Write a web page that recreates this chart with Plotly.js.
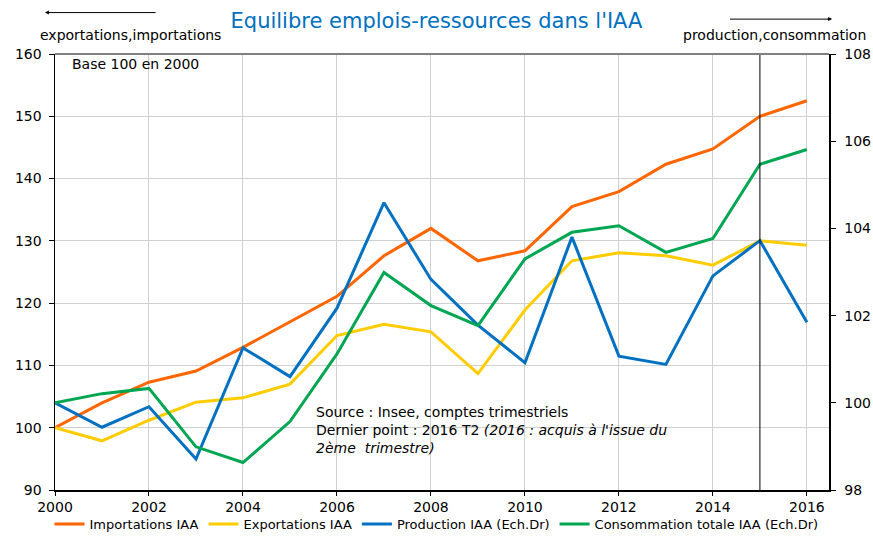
<!DOCTYPE html>
<html><head><meta charset="utf-8">
<script src="https://cdn.plot.ly/plotly-3.0.1.min.js"></script>
<style>body{margin:0;background:#fff}#chart{width:873px;height:539px}</style>
</head><body><div id="chart"></div>
<script>
const years = [2000,2001,2002,2003,2004,2005,2006,2007,2008,2009,2010,2011,2012,2013,2014,2015,2016];
const importations = [100,104.0,107.3,109.1,112.9,117.0,121.1,127.6,132.0,126.8,128.4,135.5,137.9,142.3,144.75,150.0,152.5];
const exportations = [100,97.9,101.2,104.1,104.8,107.0,114.8,116.6,115.4,108.7,118.9,126.8,128.1,127.6,126.1,130.0,129.3];
const production = [100,99.44,99.91,98.71,101.26,100.60,102.17,104.59,102.83,101.78,100.92,103.8,101.07,100.88,102.91,103.72,101.85];
const consommation = [100,100.21,100.33,98.99,98.63,99.57,101.12,102.99,102.23,101.77,103.3,103.91,104.06,103.45,103.77,105.47,105.81];
const seriesNames = ["Importations IAA","Exportations IAA","Production IAA (Ech.Dr)","Consommation totale IAA (Ech.Dr)"];
const xTicks = [2000,2002,2004,2006,2008,2010,2012,2014,2016];
const markerYear = 2015;

const fam = "DejaVu Sans, Verdana, sans-serif";
const font = {family:fam, size:14, color:"#000"};
const mk = (y, name, color, axis) => ({x:years, y:y, name:name, type:"scatter", mode:"lines",
  line:{color:color, width:3}, yaxis:axis});
const data = [
  mk(importations, seriesNames[0], "#FF6600", "y"),
  mk(exportations, seriesNames[1], "#FFCC00", "y"),
  mk(production, seriesNames[2], "#0070C0", "y2"),
  mk(consommation, seriesNames[3], "#00A651", "y2")
];
const layout = {
  width:873, height:539,
  margin:{l:55, r:44, t:54, b:49},
  paper_bgcolor:"#fff", plot_bgcolor:"#fff",
  font:font,
  showlegend:true,
  legend:{orientation:"h", x:0.5, xanchor:"center", xref:"container", yref:"container", y:0.0, yanchor:"bottom",
    font:{family:fam, size:13}, itemwidth:30, tracegroupgap:0, bgcolor:"rgba(0,0,0,0)"},
  title:{text:"Equilibre emplois-ressources dans l'IAA", font:{family:fam, size:21, color:"#0070C0"},
    x:0.5, xanchor:"center", y:0.962, yanchor:"middle"},
  xaxis:{range:[2000, 2016.47], tickvals:xTicks,
    showgrid:true, gridcolor:"#D0D0D0", gridwidth:1, zeroline:false,
    showline:true, linecolor:"#000", linewidth:1.5, ticks:"outside", ticklen:4, tickcolor:"#000",
    tickfont:font, automargin:false},
  yaxis:{range:[90,160], dtick:10, showgrid:true, gridcolor:"#D0D0D0", gridwidth:1, zeroline:false,
    showline:true, linecolor:"#000", linewidth:1.5, ticks:"outside", ticklen:5, tickcolor:"#000",
    tickfont:font, ticklabelstandoff:4, automargin:false},
  yaxis2:{range:[98,108], dtick:2, overlaying:"y", side:"right", showgrid:false, zeroline:false,
    showline:true, linecolor:"#000", linewidth:1.5, ticks:"outside", ticklen:5, tickcolor:"#000",
    tickfont:font, ticklabelstandoff:6, automargin:false},
  shapes:[
    {type:"line", xref:"x", yref:"paper", x0:markerYear, x1:markerYear, y0:0, y1:1, line:{color:"#000", width:1}},
    {type:"line", xref:"paper", yref:"paper", x0:0, x1:1, y0:1, y1:1, line:{color:"#808080", width:2}},
    {type:"line", xref:"paper", yref:"paper", x0:0.13, x1:-0.009, y0:1.095, y1:1.095, line:{color:"#000", width:1}},
    {type:"line", xref:"paper", yref:"paper", x0:0.872, x1:1.0, y0:1.08, y1:1.08, line:{color:"#000", width:1}}
  ],
  annotations:[
    {xref:"paper", yref:"paper", x:-0.013, y:1.095, ax:6, ay:0, showarrow:true, arrowhead:2, arrowsize:0.8, arrowwidth:1, arrowcolor:"#000", text:""},
    {xref:"paper", yref:"paper", x:1.004, y:1.08, ax:-6, ay:0, showarrow:true, arrowhead:2, arrowsize:0.8, arrowwidth:1, arrowcolor:"#000", text:""},
    {xref:"paper", yref:"paper", x:-0.022, y:1.044, xanchor:"left", yanchor:"middle", showarrow:false,
      text:"exportations,importations", font:font},
    {xref:"paper", yref:"paper", x:1.05, y:1.044, xanchor:"right", yanchor:"middle", showarrow:false,
      text:"production,consommation", font:font},
    {xref:"paper", yref:"paper", x:0.019, y:0.977, xanchor:"left", yanchor:"middle", showarrow:false,
      text:"Base 100 en 2000", font:font},
    {xref:"paper", yref:"paper", x:0.335, y:0.138, xanchor:"left", yanchor:"middle", showarrow:false, align:"left",
      text:"Source : Insee, comptes trimestriels<br>Dernier point : 2016 T2 <i>(2016 : acquis à l'issue du<br>2ème  trimestre)</i>", font:font}
  ]
};
Plotly.newPlot("chart", data, layout, {displayModeBar:false, staticPlot:true});
</script></body></html>
